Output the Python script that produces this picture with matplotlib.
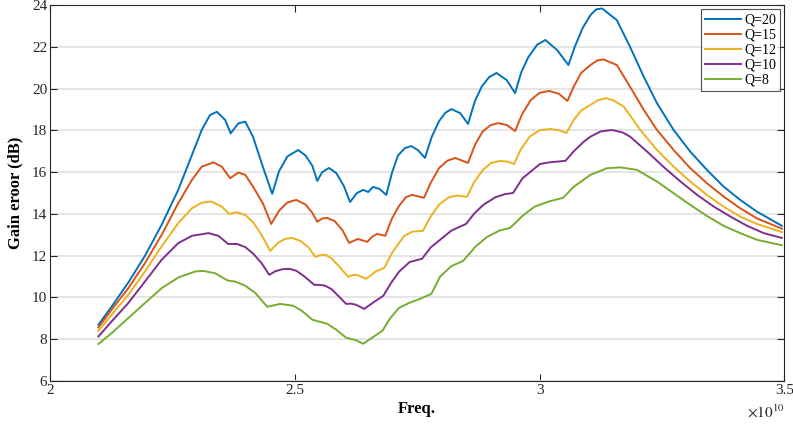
import numpy as np
import matplotlib.pyplot as plt

plt.rcParams['font.family'] = ['Liberation Serif', 'DejaVu Serif']
plt.rcParams['mathtext.fontset'] = 'stix'

# frequency in units of 1e10 Hz, gain error in dB
freq_q20 = [2.099, 2.126, 2.160, 2.194, 2.228, 2.262, 2.290, 2.310, 2.327, 2.341, 2.358,
            2.369, 2.385, 2.399, 2.415, 2.435, 2.454, 2.468, 2.485, 2.507, 2.522, 2.536,
            2.546, 2.556, 2.570, 2.585, 2.600, 2.613, 2.627, 2.640, 2.650, 2.660, 2.673,
            2.687, 2.699, 2.711, 2.725, 2.738, 2.752, 2.766, 2.780, 2.795, 2.808, 2.820,
            2.838, 2.854, 2.868, 2.882, 2.897, 2.912, 2.933, 2.950, 2.963, 2.977, 2.995,
            3.012, 3.036, 3.059, 3.072, 3.088, 3.104, 3.116, 3.128, 3.158, 3.185, 3.213,
            3.240, 3.274, 3.308, 3.342, 3.376, 3.410, 3.444, 3.495]
gain_q20 = [8.69, 9.56, 10.71, 11.99, 13.47, 15.15, 16.82, 18.02, 18.74, 18.89, 18.50,
            17.86, 18.34, 18.42, 17.68, 16.25, 14.96, 16.05, 16.75, 17.06, 16.80, 16.30,
            15.58, 16.00, 16.20, 15.95, 15.35, 14.57, 15.00, 15.15, 15.05, 15.29, 15.20,
            14.91, 16.00, 16.80, 17.15, 17.25, 17.05, 16.68, 17.70, 18.45, 18.85, 19.02,
            18.83, 18.31, 19.40, 20.10, 20.55, 20.75, 20.41, 19.79, 20.80, 21.50, 22.10,
            22.33, 21.85, 21.13, 22.00, 22.90, 23.52, 23.80, 23.84, 23.28, 22.00, 20.57,
            19.30, 18.02, 16.98, 16.11, 15.31, 14.67, 14.11, 13.43]

freq_q15 = [2.099, 2.126, 2.160, 2.194, 2.228, 2.262, 2.290, 2.310, 2.334, 2.351, 2.368,
            2.385, 2.399, 2.415, 2.435, 2.452, 2.468, 2.485, 2.503, 2.522, 2.536, 2.546,
            2.556, 2.566, 2.582, 2.598, 2.611, 2.629, 2.648, 2.658, 2.668, 2.685, 2.699,
            2.713, 2.727, 2.740, 2.764, 2.778, 2.795, 2.812, 2.828, 2.854, 2.868, 2.884,
            2.900, 2.916, 2.934, 2.950, 2.965, 2.982, 3.000, 3.020, 3.040, 3.057, 3.070,
            3.085, 3.104, 3.118, 3.131, 3.158, 3.185, 3.213, 3.240, 3.274, 3.308, 3.342,
            3.376, 3.410, 3.444, 3.495]
gain_q15 = [8.56, 9.41, 10.44, 11.64, 12.99, 14.51, 15.63, 16.26, 16.47, 16.26, 15.71,
            15.98, 15.87, 15.30, 14.50, 13.52, 14.15, 14.55, 14.67, 14.45, 14.05, 13.62,
            13.78, 13.81, 13.65, 13.20, 12.61, 12.80, 12.66, 12.90, 13.04, 12.95, 13.80,
            14.38, 14.80, 14.91, 14.77, 15.50, 16.20, 16.55, 16.68, 16.44, 17.30, 17.95,
            18.25, 18.35, 18.25, 17.97, 18.80, 19.45, 19.80, 19.89, 19.75, 19.41, 20.10,
            20.75, 21.13, 21.35, 21.40, 21.13, 20.09, 18.98, 18.02, 17.06, 16.19, 15.47,
            14.83, 14.27, 13.79, 13.29]

freq_q12 = [2.099, 2.126, 2.160, 2.194, 2.228, 2.262, 2.290, 2.310, 2.330, 2.351, 2.366,
            2.382, 2.399, 2.415, 2.432, 2.450, 2.465, 2.480, 2.495, 2.512, 2.528, 2.542,
            2.553, 2.564, 2.576, 2.590, 2.609, 2.618, 2.627, 2.646, 2.655, 2.664, 2.683,
            2.698, 2.713, 2.724, 2.740, 2.762, 2.777, 2.795, 2.815, 2.832, 2.852, 2.866,
            2.884, 2.902, 2.920, 2.935, 2.948, 2.962, 2.980, 3.000, 3.022, 3.040, 3.055,
            3.070, 3.085, 3.104, 3.120, 3.136, 3.150, 3.172, 3.206, 3.240, 3.274, 3.308,
            3.342, 3.376, 3.410, 3.444, 3.495]
gain_q12 = [8.40, 9.17, 10.12, 11.24, 12.44, 13.56, 14.27, 14.54, 14.59, 14.35, 14.00,
            14.08, 13.95, 13.60, 13.00, 12.23, 12.60, 12.80, 12.85, 12.70, 12.40, 11.94,
            12.03, 12.04, 11.85, 11.50, 10.99, 11.07, 11.08, 10.89, 11.05, 11.22, 11.42,
            12.10, 12.61, 12.95, 13.15, 13.19, 13.85, 14.45, 14.80, 14.88, 14.82, 15.50,
            16.10, 16.45, 16.54, 16.50, 16.39, 17.10, 17.70, 18.00, 18.07, 18.00, 17.88,
            18.50, 18.95, 19.22, 19.45, 19.54, 19.45, 19.14, 18.02, 17.06, 16.26, 15.55,
            14.91, 14.35, 13.87, 13.52, 13.13]

freq_q10 = [2.099, 2.126, 2.160, 2.194, 2.228, 2.262, 2.290, 2.324, 2.344, 2.364, 2.382,
            2.399, 2.415, 2.432, 2.448, 2.460, 2.475, 2.489, 2.503, 2.520, 2.540, 2.551,
            2.562, 2.575, 2.590, 2.605, 2.615, 2.625, 2.642, 2.660, 2.681, 2.697, 2.713,
            2.735, 2.760, 2.778, 2.797, 2.820, 2.850, 2.866, 2.885, 2.910, 2.930, 2.946,
            2.965, 3.001, 3.020, 3.053, 3.070, 3.090, 3.104, 3.125, 3.148, 3.170, 3.185,
            3.220, 3.253, 3.288, 3.322, 3.356, 3.390, 3.424, 3.458, 3.495]
gain_q10 = [8.13, 8.85, 9.73, 10.76, 11.80, 12.60, 12.95, 13.08, 12.95, 12.56, 12.56,
            12.41, 12.10, 11.65, 11.08, 11.25, 11.35, 11.37, 11.28, 11.00, 10.60, 10.60,
            10.56, 10.40, 10.05, 9.69, 9.70, 9.65, 9.45, 9.75, 10.08, 10.70, 11.23,
            11.70, 11.85, 12.40, 12.76, 13.20, 13.52, 14.00, 14.43, 14.80, 14.95, 15.00,
            15.70, 16.39, 16.47, 16.54, 17.00, 17.45, 17.70, 17.95, 18.02, 17.90, 17.70,
            16.98, 16.26, 15.55, 14.91, 14.35, 13.87, 13.43, 13.08, 12.85]

freq_q8 = [2.099, 2.126, 2.160, 2.194, 2.228, 2.262, 2.296, 2.313, 2.337, 2.363, 2.378,
           2.399, 2.420, 2.444, 2.470, 2.497, 2.515, 2.536, 2.566, 2.585, 2.605, 2.625,
           2.640, 2.660, 2.679, 2.695, 2.713, 2.735, 2.756, 2.779, 2.797, 2.820, 2.844,
           2.870, 2.893, 2.918, 2.940, 2.965, 2.990, 3.020, 3.048, 3.070, 3.104, 3.138,
           3.165, 3.199, 3.240, 3.274, 3.308, 3.342, 3.376, 3.410, 3.444, 3.495]
gain_q8 = [7.77, 8.29, 9.01, 9.73, 10.44, 10.95, 11.24, 11.27, 11.16, 10.81, 10.76,
           10.56, 10.20, 9.55, 9.69, 9.60, 9.35, 8.93, 8.74, 8.45, 8.07, 7.95,
           7.78, 8.10, 8.40, 9.00, 9.50, 9.75, 9.93, 10.17, 11.00, 11.50, 11.75,
           12.45, 12.90, 13.20, 13.33, 13.90, 14.35, 14.60, 14.77, 15.30, 15.87, 16.19,
           16.23, 16.11, 15.55, 14.99, 14.43, 13.90, 13.43, 13.08, 12.76, 12.50]

series = [
    ('Q=20', freq_q20, gain_q20, '#0072BD'),
    ('Q=15', freq_q15, gain_q15, '#D95319'),
    ('Q=12', freq_q12, gain_q12, '#EDB120'),
    ('Q=10', freq_q10, gain_q10, '#7E2F8E'),
    ('Q=8', freq_q8, gain_q8, '#77AC30'),
]

fig = plt.figure(figsize=(7.93, 4.28), dpi=100)
ax = fig.add_axes([0.063, 0.110, 0.926, 0.878])

for name, f, g, c in series:
    ax.plot(f, g, color=c, linewidth=1.4, label=name)

ax.set_xlim(2, 3.5)
ax.set_ylim(6, 24)
ax.set_xticks([2, 2.5, 3, 3.5])
ax.set_xticklabels(['2', '2.5', '3', '3.5'])
ax.set_yticks(np.arange(6, 25, 2))
ax.yaxis.grid(True, color='#e3e3e3', linewidth=1.3)
ax.set_axisbelow(True)
ax.tick_params(direction='in', top=True, right=True, length=5, labelsize=11,
               color='#262626', labelcolor='#262626', pad=2)
for s in ax.spines.values():
    s.set_color('#262626')
    s.set_linewidth(0.8)

ax.set_xlabel('Freq.', fontsize=12, fontweight='bold', labelpad=3)
ax.set_ylabel('Gain eroor (dB)', fontsize=12, fontweight='bold', labelpad=6)
ax.text(1.0, -0.06, r'$\times10^{10}$', transform=ax.transAxes, ha='right',
        va='top', fontsize=11, color='#262626')

leg = ax.legend(loc='upper right', fontsize=10, frameon=True, fancybox=False,
                handlelength=2.6, handletextpad=0.2, borderpad=0.3,
                labelspacing=0.15, borderaxespad=0.3)
leg.get_frame().set_edgecolor('#262626')
leg.get_frame().set_linewidth(0.8)

fig.savefig('out.png', dpi=100)
